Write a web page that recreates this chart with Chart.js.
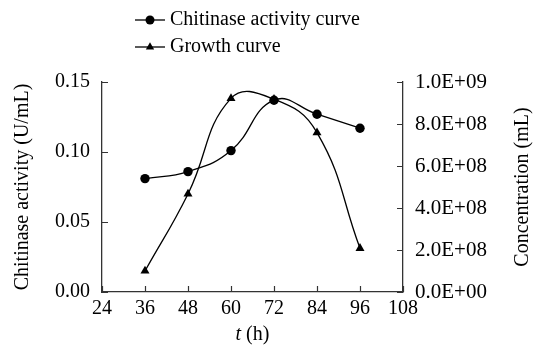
<!DOCTYPE html>
<html>
<head>
<meta charset="utf-8">
<script src="https://cdn.jsdelivr.net/npm/chart.js@4"></script>
<style>
html,body{margin:0;padding:0;background:#fff;}
#wrap{width:535px;height:347px;position:relative;}
</style>
</head>
<body>
<div id="wrap"><canvas id="c" width="535" height="347"></canvas></div>
<script>
// ---- data ----
const hours = [36, 48, 60, 72, 84, 96];
const chitinase = [0.081, 0.086, 0.101, 0.137, 0.127, 0.117];
const growth = [1.0e8, 4.67e8, 9.22e8, 9.18e8, 7.59e8, 2.08e8];
const xTicks = [24, 36, 48, 60, 72, 84, 96, 108];
const leftTicks = [0, 0.05, 0.10, 0.15];
const rightTicks = [0, 2e8, 4e8, 6e8, 8e8, 1e9];
const seriesNames = ['Chitinase activity curve', 'Growth curve'];
const xTitleItalic = 't';
const xTitleRest = ' (h)';
const leftTitle = 'Chitinase activity (U/mL)';
const rightTitle = 'Concentration (mL)';

const FONT = '"Liberation Serif", "Times New Roman", serif';
const INK = '#000';
const AXIS = '#333';

function fmtE(v) {
  if (v === 0) return '0.0E+00';
  const e = Math.floor(Math.log10(v) + 1e-9);
  const m = v / Math.pow(10, e);
  return m.toFixed(1) + 'E+' + String(e).padStart(2, '0');
}

const innerTicks = {
  id: 'innerTicks',
  afterDraw(chart) {
    const ctx = chart.ctx;
    const {x, y, y1} = chart.scales;
    const L = 6;
    ctx.save();
    ctx.strokeStyle = AXIS;
    ctx.lineWidth = 1.2;
    ctx.beginPath();
    xTicks.forEach(v => {
      const px = Math.round(x.getPixelForValue(v)) + 0.5;
      ctx.moveTo(px, y.bottom); ctx.lineTo(px, y.bottom - L);
    });
    leftTicks.forEach(v => {
      const py = Math.round(y.getPixelForValue(v)) + 0.5;
      ctx.moveTo(x.left, py); ctx.lineTo(x.left + L, py);
    });
    rightTicks.forEach(v => {
      const py = Math.round(y1.getPixelForValue(v)) + 0.5;
      ctx.moveTo(x.right, py); ctx.lineTo(x.right - L, py);
    });
    ctx.stroke();

    // x axis title with italic t
    ctx.fillStyle = INK;
    ctx.textBaseline = 'alphabetic';
    ctx.font = 'italic 20px ' + FONT;
    const w1 = ctx.measureText(xTitleItalic).width;
    ctx.font = '20px ' + FONT;
    const w2 = ctx.measureText(xTitleRest).width;
    const cx = (x.left + x.right) / 2;
    const sx = cx - (w1 + w2) / 2;
    ctx.font = 'italic 20px ' + FONT;
    ctx.fillText(xTitleItalic, sx, 340);
    ctx.font = '20px ' + FONT;
    ctx.fillText(xTitleRest, sx + w1, 340);

    // right axis title, reading bottom to top
    ctx.save();
    ctx.translate(523, (y1.top + y1.bottom) / 2);
    ctx.rotate(-Math.PI / 2);
    ctx.textAlign = 'center';
    ctx.textBaseline = 'middle';
    ctx.font = '20px ' + FONT;
    ctx.fillText(rightTitle, 0, 0);
    ctx.restore();

    // legend
    const rows = [{y: 20, style: 'circle'}, {y: 47, style: 'triangle'}];
    rows.forEach((r, i) => {
      ctx.strokeStyle = INK;
      ctx.lineWidth = 1.3;
      ctx.beginPath();
      ctx.moveTo(135, r.y); ctx.lineTo(165, r.y);
      ctx.stroke();
      ctx.fillStyle = INK;
      ctx.beginPath();
      if (r.style === 'circle') {
        ctx.arc(150, r.y, 4.5, 0, Math.PI * 2);
      } else {
        const rad = 4.8;
        ctx.moveTo(150, r.y - rad);
        ctx.lineTo(150 + rad * Math.sin(2 * Math.PI / 3), r.y - rad * Math.cos(2 * Math.PI / 3));
        ctx.lineTo(150 + rad * Math.sin(4 * Math.PI / 3), r.y - rad * Math.cos(4 * Math.PI / 3));
        ctx.closePath();
      }
      ctx.fill();
      ctx.font = '20px ' + FONT;
      ctx.textBaseline = 'middle';
      ctx.textAlign = 'left';
      ctx.fillText(seriesNames[i], 170, r.y);
    });
    ctx.restore();
  }
};

const tickFont = {family: FONT, size: 20};

new Chart(document.getElementById('c'), {
  type: 'line',
  data: {
    datasets: [
      {
        label: seriesNames[0],
        data: hours.map((h, i) => ({x: h, y: chitinase[i]})),
        yAxisID: 'y',
        borderColor: INK,
        backgroundColor: INK,
        borderWidth: 1.3,
        pointStyle: 'circle',
        pointRadius: 4.7,
        pointBackgroundColor: INK,
        pointBorderWidth: 0,
        tension: 0.45,
        fill: false
      },
      {
        label: seriesNames[1],
        data: hours.map((h, i) => ({x: h, y: growth[i]})),
        yAxisID: 'y1',
        borderColor: INK,
        backgroundColor: INK,
        borderWidth: 1.3,
        pointStyle: 'triangle',
        pointRadius: 5.2,
        pointBackgroundColor: INK,
        pointBorderWidth: 0,
        tension: 0.45,
        fill: false
      }
    ]
  },
  options: {
    responsive: false,
    animation: false,
    devicePixelRatio: 1,
    layout: {padding: {top: 82, left: 0, right: 0, bottom: 0}},
    plugins: {legend: {display: false}, tooltip: {enabled: false}},
    scales: {
      x: {
        type: 'linear', min: 24, max: 108,
        afterBuildTicks: s => { s.ticks = xTicks.map(v => ({value: v})); },
        afterFit: s => { s.height = 55; },
        grid: {display: false, drawTicks: false},
        border: {display: true, color: AXIS, width: 1.3},
        ticks: {font: tickFont, color: INK, padding: 5, maxRotation: 0}
      },
      y: {
        position: 'left', min: 0, max: 0.15,
        afterBuildTicks: s => { s.ticks = leftTicks.map(v => ({value: v})); },
        afterFit: s => { s.width = 102; },
        grid: {display: false, drawTicks: false},
        border: {display: true, color: AXIS, width: 1.3},
        ticks: {font: tickFont, color: INK, padding: 12, callback: v => Number(v).toFixed(2)},
        title: {display: true, text: leftTitle, font: {family: FONT, size: 20}, color: INK, padding: {top: 11, bottom: 0}}
      },
      y1: {
        position: 'right', min: 0, max: 1e9,
        afterBuildTicks: s => { s.ticks = rightTicks.map(v => ({value: v})); },
        afterFit: s => { s.width = 132; },
        grid: {display: false, drawTicks: false},
        border: {display: true, color: AXIS, width: 1.3},
        ticks: {font: {family: FONT, size: 21}, color: INK, padding: 12, callback: v => fmtE(v)},
        title: {display: false}
      }
    }
  },
  plugins: [innerTicks]
});
</script>
</body>
</html>
